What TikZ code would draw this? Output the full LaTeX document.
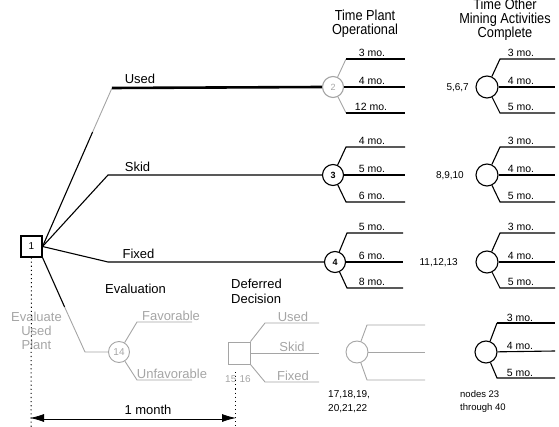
\documentclass[tikz,border=0pt]{standalone}
\usepackage{fontspec}
\setmainfont{Liberation Sans}
\newfontfamily\narrowfont[FakeStretch=0.88]{Liberation Sans}
\usetikzlibrary{arrows.meta}
\definecolor{lg}{RGB}{165,165,165}
\begin{document}
\begin{tikzpicture}[x=1pt,y=-1pt,
  ln/.style={line width=1.1pt},
  thk/.style={line width=2.6pt},
  mid/.style={line width=1.8pt},
  gl/.style={line width=0.9pt, draw=lg},
  circ/.style={circle, draw, line width=1.1pt, minimum size=21pt, inner sep=0pt, font=\fontsize{9}{10}\selectfont\bfseries},
  lbl/.style={font=\fontsize{13}{15}\selectfont, inner sep=0pt, anchor=base},
  hdr/.style={font=\narrowfont\fontsize{14.5}{15}\selectfont, inner sep=0pt, anchor=base},
  mo/.style={font=\fontsize{10.5}{12}\selectfont, inner sep=0pt, anchor=base},
  sm/.style={font=\fontsize{10}{12}\selectfont, inner sep=0pt},
  dots/.style={line width=1pt, dash pattern=on 1.1pt off 3pt},
]
\useasboundingbox (0,0) rectangle (559,427);

% headers
\node[hdr] (h1) at (365,21) {Time Plant};
\node[hdr] (h1b) at (365,35) {Operational};
\node[hdr] (h2a) at (505,10) {Time Other};
\node[hdr] (h2b) at (505,24) {Mining Activities};
\node[hdr] (h2c) at (505,38) {Complete};

% decision node 1
\node[draw, line width=1.1pt, minimum width=21pt, minimum height=21pt, inner sep=0pt, font=\fontsize{10}{12}\selectfont] (n1) at (31.5,246.5) {1};

% chance nodes
\node[circ, draw=lg, text=lg, font=\fontsize{9}{10}\selectfont] (n2) at (333,87) {2};
\node[circ] (n3) at (333,175) {3};
\node[circ] (n4) at (335,262) {4};
\node[circ, minimum size=22pt] (n5) at (487,87) {};
\node[circ, minimum size=22pt] (n8) at (487,175) {};
\node[circ, minimum size=22pt] (n11) at (487,262) {};
\node[circ, minimum size=22pt] (n23) at (486,352) {};
\node[circ, draw=lg, text=lg, line width=0.9pt, font=\fontsize{10}{12}\selectfont] (n14) at (119,352) {14};
\node[draw=lg, line width=0.9pt, minimum size=22pt, inner sep=0pt] (n15) at (239,353) {};
\node[circ, draw=lg, line width=0.9pt, minimum size=22pt] (n17) at (357,352) {};

% main branches
\coordinate (ub) at (92.6,132);
\coordinate (u1) at (112,88);
\coordinate (s1) at (108,175);
\coordinate (f1) at (108,262);
\coordinate (e0) at (64.6,307);
\coordinate (e1) at (85,352);
\draw[ln] (n1.east) -- (ub);
\draw[gl] (ub) -- (u1);
\draw[thk] (u1) -- (n2.west);
\draw[ln] (n1.east) -- (s1) -- (n3);
\draw[ln] (n1.east) -- (f1) -- (n4);
\draw[ln] (n1.south east) -- (e0);
\draw[gl] (e0) -- (e1) -- (n14);
\node[lbl] (lu) at (140,84) {Used};
\node[lbl] (ls) at (137.5,172) {Skid};
\node[lbl] (lf) at (138.5,259) {Fixed};
\node[lbl] (lev) at (135.5,294) {Evaluation};

% node 2 branches
\coordinate (a1) at (346,59); \coordinate (a1e) at (405,59);
\coordinate (a2e) at (405,87);
\coordinate (a3) at (346,113); \coordinate (a3e) at (405,113);
\draw[gl] (n2) -- (a1); \draw[mid] (a1) -- (a1e);
\draw[thk] (n2.east) -- (a2e);
\draw[gl] (n2) -- (a3); \draw[mid] (a3) -- (a3e);
\node[mo] (t21) at (372,57) {3 mo.};
\node[mo] (t22) at (372,85) {4 mo.};
\node[mo] (t23) at (371,111) {12 mo.};

% node 3 branches
\coordinate (b1) at (346,147); \coordinate (b1e) at (405,147);
\coordinate (b2e) at (405,175);
\coordinate (b3) at (346,202); \coordinate (b3e) at (405,202);
\draw[ln] (n3) -- (b1) -- (b1e);
\draw[ln] (n3) -- (b2e);
\draw[ln] (n3) -- (b3) -- (b3e);
\node[mo] (t31) at (372,145) {4 mo.};
\node[mo] (t32) at (372,173) {5 mo.};
\node[mo] (t33) at (372,200) {6 mo.};

% node 4 branches
\coordinate (c1) at (347,233); \coordinate (c1e) at (403,233);
\coordinate (c2e) at (403,262);
\coordinate (c3) at (347,288); \coordinate (c3e) at (403,288);
\draw[ln] (n4) -- (c1) -- (c1e);
\draw[ln] (n4) -- (c2e);
\draw[ln] (n4) -- (c3) -- (c3e);
\node[mo] (t41) at (372,231) {5 mo.};
\node[mo] (t42) at (372,260) {6 mo.};
\node[mo] (t43) at (372,286) {8 mo.};

% column 3
\coordinate (d1) at (500,59); \coordinate (d1e) at (555,59);
\coordinate (d2e) at (555,87);
\coordinate (d3) at (500,113); \coordinate (d3e) at (555,113);
\draw[ln] (n5) -- (d1) -- (d1e);
\draw[ln] (n5) -- (d2e);
\draw[ln] (n5) -- (d3) -- (d3e);
\node[mo] (t51) at (521,57) {3 mo.};
\node[mo] (t52) at (521,85) {4 mo.};
\node[mo] (t53) at (521,111) {5 mo.};
\node[sm, anchor=base east] (l5) at (469,90.5) {5,6,7};

\coordinate (g1) at (500,147); \coordinate (g1e) at (555,147);
\coordinate (g2e) at (555,175);
\coordinate (g3) at (500,202); \coordinate (g3e) at (555,202);
\draw[ln] (n8) -- (g1) -- (g1e);
\draw[ln] (n8) -- (g2e);
\draw[ln] (n8) -- (g3) -- (g3e);
\node[mo] (t81) at (521,145) {3 mo.};
\node[mo] (t82) at (521,173) {4 mo.};
\node[mo] (t83) at (521,200) {5 mo.};
\node[sm, anchor=base east] (l8) at (464,178.5) {8,9,10};

\coordinate (k1) at (500,233); \coordinate (k1e) at (555,233);
\coordinate (k2e) at (555,262);
\coordinate (k3) at (500,288); \coordinate (k3e) at (555,288);
\draw[ln] (n11) -- (k1) -- (k1e);
\draw[ln] (n11) -- (k2e);
\draw[ln] (n11) -- (k3) -- (k3e);
\node[mo] (t111) at (521,231) {3 mo.};
\node[mo] (t112) at (521,260) {4 mo.};
\node[mo] (t113) at (521,286) {5 mo.};
\node[sm, anchor=base east] (l11) at (458,265.5) {11,12,13};

\coordinate (q1) at (497,323); \coordinate (q1e) at (555,323);
\coordinate (q2e) at (555,351);
\coordinate (q3) at (497,378); \coordinate (q3e) at (555,378);
\draw[ln] (n23) -- (q1); \draw[mid] (q1) -- (q1e);
\draw[ln] (n23) -- (q2e);
\draw[ln] (n23) -- (q3) -- (q3e);
\node[mo] (t231) at (520,321) {3 mo.};
\node[mo] (t232) at (520,349) {4 mo.};
\node[mo] (t233) at (520,376) {5 mo.};
\node[sm, anchor=base west, font=\fontsize{9.5}{11}\selectfont] (l23a) at (460,397) {nodes 23};
\node[sm, anchor=base west, font=\fontsize{9.5}{11}\selectfont] (l23b) at (460,410) {through 40};

% evaluation node 14
\coordinate (p1) at (137,322); \coordinate (p1e) at (192,322);
\coordinate (p2) at (137,380); \coordinate (p2e) at (192,380);
\draw[gl] (n14) -- (p1) -- (p1e);
\draw[gl] (n14) -- (p2) -- (p2e);
\node[lbl, text=lg] (lfav) at (171,320) {Favorable};
\node[lbl, text=lg] (lunf) at (172,378) {Unfavorable};
\node[lbl, text=lg] (ev1) at (36.5,321) {Evaluate};
\node[lbl, text=lg] (ev2) at (36.5,335) {Used};
\node[lbl, text=lg] (ev3) at (36.5,349) {Plant};

% deferred decision
\node[lbl, anchor=base west] (dd1) at (231,289) {Deferred};
\node[lbl, anchor=base west] (dd2) at (231,304) {Decision};
\coordinate (r1) at (265,323); \coordinate (r1e) at (319,323);
\coordinate (r2e) at (319,353);
\coordinate (r3) at (265,382); \coordinate (r3e) at (319,382);
\draw[gl] (n15.north east) -- (r1) -- (r1e);
\draw[gl] (n15.east) -- (r2e);
\draw[gl] (n15.south east) -- (r3) -- (r3e);
\node[lbl, text=lg] (r1t) at (293,321) {Used};
\node[lbl, text=lg] (r2t) at (292,351) {Skid};
\node[lbl, text=lg] (r3t) at (293,380) {Fixed};
\node[sm, text=lg, anchor=base] (l15) at (238,382) {15\,\,16};

% node 17 branches
\coordinate (v1) at (367,325); \coordinate (v1e) at (425,325);
\coordinate (v2e) at (425,352);
\coordinate (v3) at (367,380); \coordinate (v3e) at (425,380);
\draw[gl] (n17) -- (v1) -- (v1e);
\draw[gl] (n17) -- (v2e);
\draw[gl] (n17) -- (v3) -- (v3e);
\node[sm, anchor=base west] (l17a) at (328,397) {17,18,19,};
\node[sm, anchor=base west] (l17b) at (328,411) {20,21,22};

% time scale
\coordinate (dA) at (31,427);
\coordinate (dB) at (235,372);
\coordinate (dC) at (235,427);
\draw[dots] (n1.south) -- (dA);
\draw[dots] (dB) -- (dC);
\coordinate (m1) at (30,418);
\coordinate (m2) at (236,418);
\draw[double, double distance=1.4pt, line width=0.8pt, {Latex[length=14pt,width=8pt]}-{Latex[length=14pt,width=8pt]}] (m1) -- (m2);
\node[lbl] (mon) at (148,414) {1 month};
\end{tikzpicture}
\end{document}
